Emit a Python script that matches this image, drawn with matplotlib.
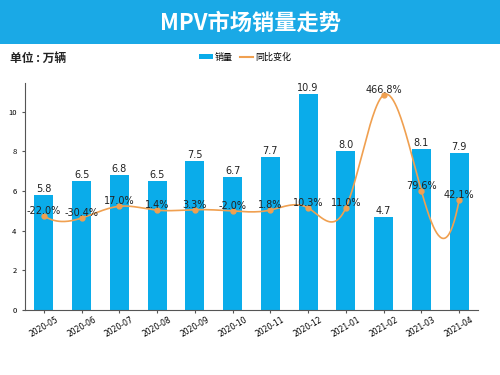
import numpy as np
import matplotlib
matplotlib.use("Agg")
import matplotlib.pyplot as plt
from matplotlib.patches import Rectangle, Patch
from matplotlib.lines import Line2D

plt.rcParams['font.family'] = ['Noto Sans CJK SC', 'DejaVu Sans']

months = ['2020-05', '2020-06', '2020-07', '2020-08', '2020-09', '2020-10',
          '2020-11', '2020-12', '2021-01', '2021-02', '2021-03', '2021-04']
sales = [5.8, 6.5, 6.8, 6.5, 7.5, 6.7, 7.7, 10.9, 8.0, 4.7, 8.1, 7.9]
yoy = [-22.0, -30.4, 17.0, 1.4, 3.3, -2.0, 1.8, 10.3, 11.0, 466.8, 79.6, 42.1]

BAR = '#0aacea'
LINE = '#f0a050'


def notaknot_spline(x, y, n=500):
    x = np.asarray(x, float); y = np.asarray(y, float)
    m = len(x); h = np.diff(x)
    A = np.zeros((m, m)); b = np.zeros(m)
    A[0, 0] = h[1]; A[0, 1] = -(h[0] + h[1]); A[0, 2] = h[0]
    A[-1, -3] = h[-1]; A[-1, -2] = -(h[-2] + h[-1]); A[-1, -1] = h[-2]
    for i in range(1, m - 1):
        A[i, i - 1] = h[i - 1]; A[i, i] = 2 * (h[i - 1] + h[i]); A[i, i + 1] = h[i]
        b[i] = 6 * ((y[i + 1] - y[i]) / h[i] - (y[i] - y[i - 1]) / h[i - 1])
    M = np.linalg.solve(A, b)
    xs = np.linspace(x[0], x[-1], n); ys = np.empty_like(xs)
    for k, xv in enumerate(xs):
        i = min(np.searchsorted(x, xv, side='right') - 1, m - 2)
        hi = h[i]; a = x[i + 1] - xv; t = xv - x[i]
        ys[k] = (M[i] * a ** 3 / (6 * hi) + M[i + 1] * t ** 3 / (6 * hi)
                 + (y[i] / hi - M[i] * hi / 6) * a + (y[i + 1] / hi - M[i + 1] * hi / 6) * t)
    return xs, ys


fig = plt.figure(figsize=(5, 3.75), dpi=100)

fig.patches.append(Rectangle((0, 1 - 44 / 375), 1, 44 / 375, transform=fig.transFigure,
                             facecolor='#1aa9e6', edgecolor='none', zorder=0))
fig.text(0.5, 1 - 23 / 375, 'MPV市场销量走势', color='white', fontsize=16,
         fontweight='bold', ha='center', va='center')
fig.text(0.02, 1 - 58 / 375, '单位 : 万辆', fontsize=8.5, fontweight='bold',
         ha='left', va='center', color='#222222')

ax = fig.add_axes([0.05, 0.1733, 0.906, 0.6053])
x = np.arange(len(months))
ax.bar(x, sales, width=0.5, color=BAR, zorder=2)
for xi, v in zip(x, sales):
    ax.text(xi, v + 0.05, f'{v:.1f}', ha='center', va='bottom', fontsize=7,
            color='#222222', family='DejaVu Sans')
ax.set_xlim(-0.5, 11.5)
ax.set_ylim(0, 11.45)
ax.set_yticks([0, 2, 4, 6, 8, 10])
ax.set_xticks(x)
ax.set_xticklabels(months, rotation=30, fontsize=5.5, family='DejaVu Sans')
ax.tick_params(axis='y', labelsize=5.5, length=2.5, color='#555555')
ax.tick_params(axis='x', length=2.5, color='#555555', pad=1)
for s in ['top', 'right']:
    ax.spines[s].set_visible(False)
for s in ['left', 'bottom']:
    ax.spines[s].set_color('#555555')
    ax.spines[s].set_linewidth(0.8)

ax2 = ax.twinx()
ax2.set_ylim(-402, 515)
ax2.axis('off')
xs, ys = notaknot_spline(x, yoy)
ax2.plot(xs, ys, color=LINE, lw=1.2, zorder=3)
ax2.plot(x, yoy, 'o', color=LINE, ms=3.5, zorder=4)
for xi, v in zip(x, yoy):
    ax2.annotate(f'{v:.1f}%', (xi, v), xytext=(0, 3.5), textcoords='offset points',
                 ha='center', va='center', fontsize=7, color='#222222',
                 family='DejaVu Sans', zorder=5)

handles = [Patch(facecolor=BAR, edgecolor='none'),
           Line2D([0], [0], color=LINE, lw=1.5)]
fig.legend(handles, ['销量', '同比变化'], loc='center', bbox_to_anchor=(0.49, 1 - 57 / 375),
           ncol=2, frameon=False, fontsize=6.5, handlelength=1.5, handleheight=0.5,
           columnspacing=0.8, handletextpad=0.2)

fig.savefig('out.png', dpi=100)
